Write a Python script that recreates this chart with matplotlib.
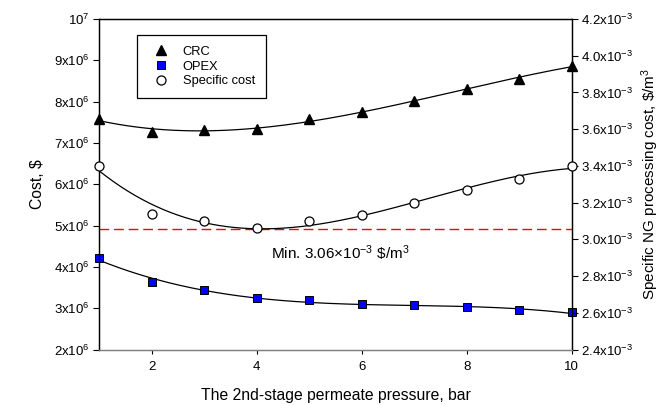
import numpy as np
import matplotlib
matplotlib.use("Agg")
from matplotlib import pyplot as plt

plt.rcParams['font.family'] = ['Liberation Sans', 'DejaVu Sans']
plt.rcParams['mathtext.fontset'] = 'custom'
plt.rcParams['mathtext.rm'] = 'Liberation Sans'
plt.rcParams['mathtext.it'] = 'Liberation Sans:italic'

# data
pressure = [1, 2, 3, 4, 5, 6, 7, 8, 9, 10]
crc = [7.58e6, 7.27e6, 7.31e6, 7.35e6, 7.57e6, 7.74e6, 8.02e6, 8.30e6, 8.56e6, 8.87e6]
opex = [4.21e6, 3.64e6, 3.44e6, 3.25e6, 3.19e6, 3.09e6, 3.07e6, 3.02e6, 2.95e6, 2.90e6]
spec_cost = [3.40e-3, 3.14e-3, 3.10e-3, 3.06e-3, 3.10e-3, 3.13e-3, 3.20e-3, 3.27e-3, 3.33e-3, 3.40e-3]
min_cost = 3.055e-3

left_ticks = [2e6, 3e6, 4e6, 5e6, 6e6, 7e6, 8e6, 9e6, 10e6]
left_labels = ['$\\mathregular{%dx10^{6}}$' % v for v in range(2, 10)] + ['$\\mathregular{10^{7}}$']
right_ticks = [2.4e-3, 2.6e-3, 2.8e-3, 3.0e-3, 3.2e-3, 3.4e-3, 3.6e-3, 3.8e-3, 4.0e-3, 4.2e-3]
right_labels = ['$\\mathregular{%.1fx10^{-3}}$' % (v * 1e3) for v in right_ticks]

fig, ax = plt.subplots(figsize=(6.61, 4.05), dpi=100)
fig.subplots_adjust(left=0.150, right=0.865, bottom=0.137, top=0.953)
ax2 = ax.twinx()

# polynomial trend lines through the points
xs = np.linspace(1, 10, 200)
for y, a in [(crc, ax), (opex, ax), (spec_cost, ax2)]:
    coef = np.polyfit(pressure, y, 3)
    a.plot(xs, np.polyval(coef, xs), color='black', lw=0.9, zorder=2)

h1, = ax.plot(pressure, crc, '^', color='black', ms=7, ls='none', zorder=3, clip_on=False)
h2, = ax.plot(pressure, opex, 's', mfc='#0000ff', mec='black', mew=0.7, ms=6, ls='none', zorder=3, clip_on=False)
h3, = ax2.plot(pressure, spec_cost, 'o', mfc='white', mec='black', mew=0.9, ms=6.5, ls='none', zorder=3, clip_on=False)
ax2.axhline(min_cost, color='#ff0000', ls=(0, (7, 3.5)), lw=1.0, zorder=1)

ax2.text(5.6, 2.925e-3, 'Min. 3.06×10$^{-3}$ \\$/m$^{3}$', fontsize=11, ha='center', va='center')

ax.set_xlim(1, 10)
ax.set_ylim(2e6, 10e6)
ax2.set_ylim(2.4e-3, 4.2e-3)

ax.set_xticks([2, 4, 6, 8, 10])
ax.set_yticks(left_ticks)
ax.set_yticklabels(left_labels)
ax2.set_yticks(right_ticks)
ax2.set_yticklabels(right_labels)

ax.tick_params(axis='both', labelsize=9.5, direction='out', length=4, width=0.8, pad=3)
ax.tick_params(axis='x', length=3, pad=5)
ax2.tick_params(axis='y', labelsize=9.5, direction='out', length=4, width=0.8, pad=3)

ax.set_xlabel('The 2nd-stage permeate pressure, bar', fontsize=11.3, labelpad=11)
ax.set_ylabel('Cost, \\$', fontsize=11.3, labelpad=6)
ax2.set_ylabel('Specific NG processing cost, \\$/m$^{3}$', fontsize=11, labelpad=4)

for a in [ax, ax2]:
    for s in a.spines.values():
        s.set_linewidth(0.9)
    a.spines['bottom'].set_color('#808080')

leg = ax2.legend([h1, h2, h3], ['CRC', 'OPEX', 'Specific cost'], loc='upper left',
                 bbox_to_anchor=(0.08, 0.952), borderaxespad=0, fontsize=9.3,
                 fancybox=False, edgecolor='black', framealpha=1,
                 handletextpad=0.7, borderpad=0.85, labelspacing=0.2)
leg.get_frame().set_linewidth(0.9)

fig.savefig('out.png', dpi=100)
